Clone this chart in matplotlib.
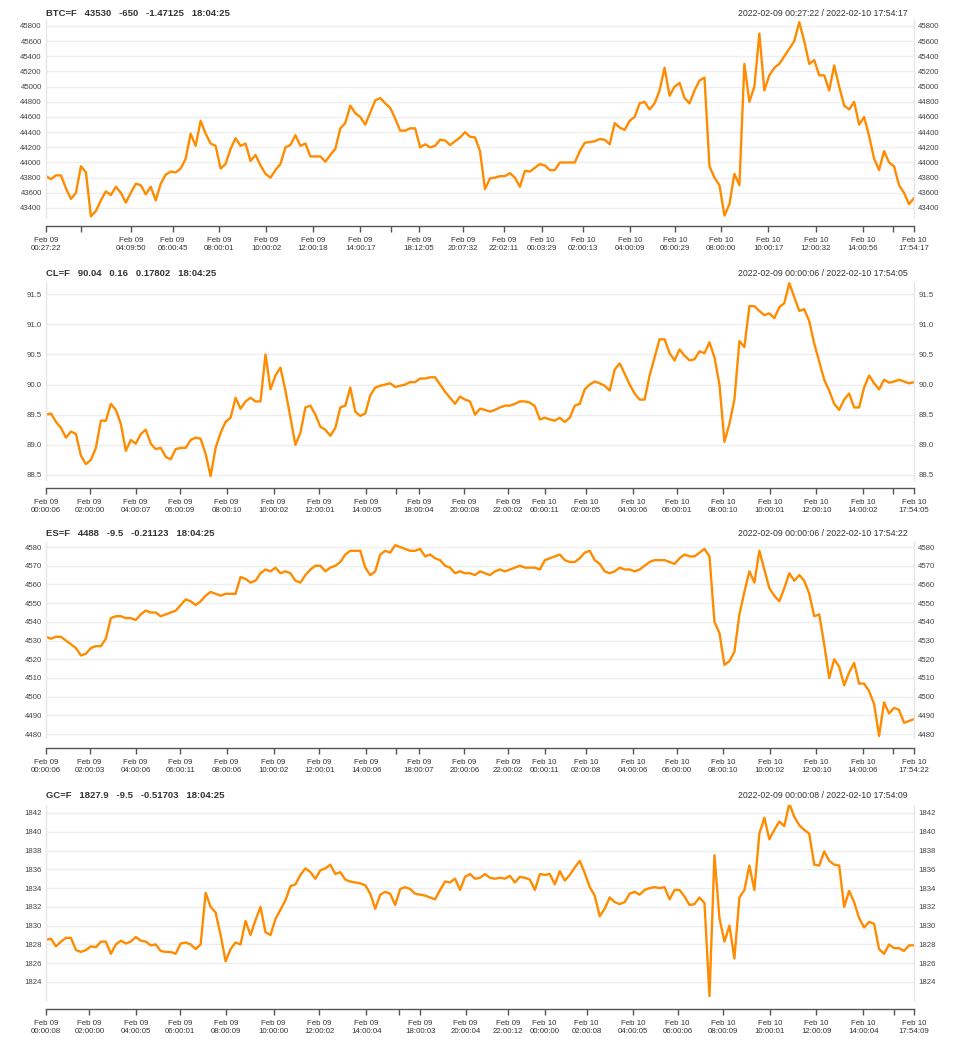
import numpy as np
import matplotlib
matplotlib.use("Agg")
import matplotlib.pyplot as plt

plt.rcParams["font.family"] = ["Liberation Sans", "DejaVu Sans"]

# ---- series values, evenly spaced along the sample sequence ----
btc = [43820, 43780, 43830, 43830, 43660, 43520, 43600, 43950, 43870, 43290,
       43360, 43500, 43620, 43570, 43680, 43600, 43470, 43600, 43720, 43700,
       43580, 43680, 43500, 43720, 43840, 43880, 43870, 43920, 44050, 44380,
       44220, 44550, 44380, 44250, 44220, 43920, 43980, 44180, 44320, 44220,
       44250, 44020, 44100, 43960, 43850, 43800, 43900, 43980, 44200, 44230,
       44360, 44220, 44250, 44080, 44080, 44080, 44010, 44100, 44180, 44450,
       44520, 44750, 44650, 44600, 44500, 44660, 44820, 44850, 44780, 44720,
       44580, 44420, 44420, 44450, 44450, 44200, 44240, 44200, 44220, 44300,
       44290, 44230, 44280, 44330, 44400, 44340, 44330,
       44150, 43650, 43790, 43800, 43820, 43820, 43860, 43800, 43680, 43890,
       43880, 43930, 43980, 43960, 43900, 43900, 44000, 44000, 44000, 44000,
       44150, 44260, 44270, 44280, 44310, 44300, 44240, 44520, 44460, 44430,
       44550, 44600, 44780, 44800, 44700, 44780, 44950, 45250, 44880, 45000,
       45050, 44850, 44780, 44950, 45080, 45120, 43950, 43800, 43700, 43300,
       43450, 43850, 43700, 45300, 44800, 45000, 45700, 44950, 45150, 45250,
       45300, 45400, 45500, 45600, 45850, 45600, 45300, 45350, 45150, 45150,
       44950, 45280, 45000, 44750, 44700, 44800, 44500, 44600, 44350, 44050,
       43900, 44150, 44000, 43950, 43700, 43600, 43450, 43530]

cl = [89.50, 89.52, 89.38, 89.28, 89.12, 89.22, 89.18, 88.82, 88.68, 88.75,
      88.95, 89.40, 89.40, 89.68, 89.58, 89.35, 88.90, 89.08, 89.02, 89.18,
      89.25, 89.02, 88.93, 88.95, 88.80, 88.76, 88.93, 88.95, 88.95, 89.08,
      89.12, 89.10, 88.85, 88.48, 88.95, 89.20, 89.38, 89.45, 89.78, 89.60,
      89.72, 89.78, 89.72, 89.72, 90.50, 89.92, 90.15, 90.28, 89.90, 89.45,
      89.00, 89.20, 89.62, 89.65, 89.50, 89.30, 89.25, 89.15, 89.28, 89.62,
      89.65, 89.95, 89.55, 89.48, 89.52, 89.82, 89.95, 89.98, 90.00, 90.02,
      89.96, 89.98, 90.00, 90.04, 90.04, 90.10, 90.10, 90.12, 90.12, 90.00,
      89.88, 89.78, 89.68, 89.80, 89.75, 89.72, 89.50,
      89.60, 89.58, 89.55, 89.58, 89.62, 89.65, 89.65, 89.68, 89.72, 89.72,
      89.70, 89.64, 89.42, 89.45, 89.42, 89.40, 89.45, 89.38, 89.45, 89.65,
      89.68, 89.92, 90.00, 90.05, 90.02, 89.98, 89.90, 90.25, 90.35, 90.18,
      90.00, 89.85, 89.75, 89.75, 90.15, 90.45, 90.75, 90.75, 90.52, 90.40,
      90.58, 90.48, 90.40, 90.42, 90.55, 90.52, 90.70, 90.45, 90.00, 89.05,
      89.35, 89.75, 90.72, 90.62, 91.30, 91.30, 91.22, 91.15, 91.18, 91.10,
      91.28, 91.35, 91.68, 91.45, 91.22, 91.25, 91.05, 90.68, 90.38, 90.08,
      89.90, 89.68, 89.58, 89.75, 89.85, 89.62, 89.62, 89.95, 90.15, 90.02,
      89.92, 90.08, 90.03, 90.05, 90.08, 90.05, 90.02, 90.04]

es = [4532, 4531, 4532, 4532, 4530, 4528, 4526, 4522, 4523, 4526,
      4527, 4527, 4531, 4542, 4543, 4543, 4542, 4542, 4541, 4544,
      4546, 4545, 4545, 4543, 4544, 4545, 4546, 4549, 4552, 4551,
      4549, 4551, 4554, 4556, 4555, 4554, 4555, 4555, 4555, 4564,
      4563, 4561, 4562, 4566, 4568, 4567, 4569, 4566, 4567, 4566,
      4562, 4561, 4565, 4568, 4570, 4570, 4567, 4569, 4570, 4572,
      4576, 4578, 4578, 4578, 4569, 4565, 4567, 4576, 4578, 4577,
      4581, 4580, 4579, 4578, 4578, 4579, 4575, 4576, 4574, 4573,
      4570, 4569, 4566, 4567, 4566, 4566, 4565,
      4567, 4566, 4565, 4567, 4568, 4567, 4568, 4569, 4570, 4569,
      4569, 4569, 4568, 4573, 4574, 4575, 4576, 4573, 4572, 4572,
      4574, 4577, 4578, 4573, 4571, 4567, 4566, 4567, 4569, 4568,
      4568, 4567, 4568, 4570, 4572, 4573, 4573, 4573, 4572, 4571,
      4574, 4576, 4575, 4575, 4577, 4579, 4575, 4540, 4534, 4517,
      4519, 4524, 4544, 4556, 4567, 4561, 4578, 4568, 4558, 4554,
      4551, 4558, 4566, 4562, 4565, 4562, 4555, 4543, 4544, 4528,
      4510, 4520, 4516, 4506, 4513, 4518, 4507, 4507, 4503, 4496,
      4479, 4497, 4491, 4494, 4493, 4486, 4487, 4488]

gc = [1828.5, 1828.6, 1827.8, 1828.3, 1828.7, 1828.7, 1827.4, 1827.2, 1827.4, 1827.8,
      1827.7, 1828.3, 1828.3, 1827.0, 1828.0, 1828.4, 1828.1, 1828.3, 1828.8, 1828.4,
      1828.3, 1827.9, 1828.0, 1827.3, 1827.2, 1827.2, 1827.0, 1828.1, 1828.2, 1828.0,
      1827.5, 1828.0, 1833.5, 1832.0, 1831.4, 1829.0, 1826.2, 1827.5, 1828.2, 1828.0,
      1830.5, 1829.0, 1830.6, 1832.0, 1829.3, 1829.0, 1830.7, 1831.7, 1832.7, 1834.2,
      1834.4, 1835.4, 1836.1, 1835.7, 1835.0, 1835.9, 1836.1, 1836.5, 1835.5, 1835.7,
      1834.9, 1834.7, 1834.6, 1834.5, 1834.3, 1833.4, 1831.8, 1833.3, 1833.6, 1833.4,
      1832.2, 1833.9, 1834.1, 1833.9, 1833.4, 1833.3, 1833.2, 1833.0, 1832.8, 1833.8,
      1834.7, 1834.6, 1835.0, 1833.8, 1835.2, 1835.5, 1835.0,
      1835.1, 1835.5, 1835.1, 1835.0, 1835.1, 1835.0, 1835.3, 1834.6, 1835.2, 1835.1,
      1834.9, 1833.8, 1835.5, 1835.4, 1835.5, 1834.4, 1835.8, 1834.8, 1835.4, 1836.2,
      1836.9, 1835.6, 1834.1, 1833.2, 1831.0, 1831.8, 1833.0, 1832.5, 1832.3, 1832.5,
      1833.4, 1833.6, 1833.3, 1833.8, 1834.0, 1834.1, 1834.0, 1834.1, 1832.8, 1833.8,
      1833.8, 1833.1, 1832.2, 1832.3, 1833.0, 1832.4, 1822.5, 1837.5, 1830.8, 1828.3,
      1830.0, 1826.5, 1833.0, 1833.8, 1836.4, 1833.8, 1839.8, 1841.5, 1839.2, 1840.2,
      1841.1, 1840.6, 1843.0, 1841.6, 1840.7, 1840.2, 1839.8, 1836.5, 1836.4, 1837.9,
      1836.9, 1836.5, 1836.4, 1832.0, 1833.7, 1832.5, 1830.8, 1829.8, 1830.4, 1830.2,
      1827.5, 1827.0, 1828.0, 1827.6, 1827.6, 1827.3, 1827.9, 1827.9]

# ---- x ticks: where along the sample sequence each timestamp falls ----
btc_tick_at = [0.0, 0.0399, 0.0982, 0.1458, 0.1992, 0.2536, 0.3077, 0.3622, 0.3975,
               0.4294, 0.4804, 0.5276, 0.5714, 0.6190, 0.6727, 0.7249, 0.7774,
               0.8319, 0.8868, 0.9413, 0.9754, 1.0]
btc_tick_labels = ["Feb 09\n00:27:22", "", "Feb 09\n04:09:50", "Feb 09\n06:00:45",
                   "Feb 09\n08:00:01", "Feb 09\n10:00:02", "Feb 09\n12:00:18",
                   "Feb 09\n14:00:17", "", "Feb 09\n18:12:05", "Feb 09\n20:07:32",
                   "Feb 09\n22:02:11", "Feb 10\n00:03:29", "Feb 10\n02:00:13",
                   "Feb 10\n04:00:09", "Feb 10\n06:00:29", "Feb 10\n08:00:00",
                   "Feb 10\n10:00:17", "Feb 10\n12:00:32", "Feb 10\n14:00:56", "",
                   "Feb 10\n17:54:17"]

cl_tick_at = [0.0, 0.0503, 0.1032, 0.1546, 0.2080, 0.2621, 0.3150, 0.3691, 0.4033,
              0.4298, 0.4820, 0.5322, 0.5744, 0.6224, 0.6761, 0.7272, 0.7801,
              0.8338, 0.8876, 0.9413, 0.9754, 1.0]
cl_tick_labels = ["Feb 09\n00:00:06", "Feb 09\n02:00:00", "Feb 09\n04:00:07",
                  "Feb 09\n06:00:09", "Feb 09\n08:00:10", "Feb 09\n10:00:02",
                  "Feb 09\n12:00:01", "Feb 09\n14:00:05", "", "Feb 09\n18:00:04",
                  "Feb 09\n20:00:08", "Feb 09\n22:00:02", "Feb 10\n00:00:11",
                  "Feb 10\n02:00:05", "Feb 10\n04:00:06", "Feb 10\n06:00:01",
                  "Feb 10\n08:00:10", "Feb 10\n10:00:01", "Feb 10\n12:00:10",
                  "Feb 10\n14:00:02", "", "Feb 10\n17:54:05"]

es_tick_at = cl_tick_at
es_tick_labels = ["Feb 09\n00:00:06", "Feb 09\n02:00:03", "Feb 09\n04:00:06",
                  "Feb 09\n06:00:11", "Feb 09\n08:00:06", "Feb 09\n10:00:02",
                  "Feb 09\n12:00:01", "Feb 09\n14:00:06", "", "Feb 09\n18:00:07",
                  "Feb 09\n20:00:06", "Feb 09\n22:00:02", "Feb 10\n00:00:11",
                  "Feb 10\n02:00:08", "Feb 10\n04:00:06", "Feb 10\n06:00:00",
                  "Feb 10\n08:00:10", "Feb 10\n10:00:02", "Feb 10\n12:00:10",
                  "Feb 10\n14:00:06", "", "Feb 10\n17:54:22"]

gc_tick_at = [0.0, 0.0499, 0.1040, 0.1543, 0.2076, 0.2621, 0.3150, 0.3691, 0.4064,
              0.4313, 0.4835, 0.5322, 0.5744, 0.6228, 0.6761, 0.7276, 0.7801,
              0.8338, 0.8876, 0.9417, 0.9770, 1.0]
gc_tick_labels = ["Feb 09\n00:00:08", "Feb 09\n02:00:00", "Feb 09\n04:00:05",
                  "Feb 09\n06:00:01", "Feb 09\n08:00:09", "Feb 09\n10:00:00",
                  "Feb 09\n12:00:02", "Feb 09\n14:00:04", "", "Feb 09\n18:00:03",
                  "Feb 09\n20:00:04", "Feb 09\n22:00:12", "Feb 10\n00:00:00",
                  "Feb 10\n02:00:08", "Feb 10\n04:00:05", "Feb 10\n06:00:06",
                  "Feb 10\n08:00:09", "Feb 10\n10:00:01", "Feb 10\n12:00:09",
                  "Feb 10\n14:00:04", "", "Feb 10\n17:54:09"]

headers = ["BTC=F   43530   -650   -1.47125   18:04:25",
           "CL=F   90.04   0.16   0.17802   18:04:25",
           "ES=F   4488   -9.5   -0.21123   18:04:25",
           "GC=F   1827.9   -9.5   -0.51703   18:04:25"]
ranges = ["2022-02-09 00:27:22 / 2022-02-10 17:54:17",
          "2022-02-09 00:00:06 / 2022-02-10 17:54:05",
          "2022-02-09 00:00:06 / 2022-02-10 17:54:22",
          "2022-02-09 00:00:08 / 2022-02-10 17:54:09"]

y_ticks = [np.arange(43400, 45801, 200),
           np.arange(88.5, 91.51, 0.5),
           np.arange(4480, 4581, 10),
           np.arange(1824, 1843, 2)]
y_fmt = ["{:.0f}", "{:.1f}", "{:.0f}", "{:.0f}"]
y_lims = [(43268, 45879), (88.417, 91.70), (4477.9, 4582.7), (1822.08, 1842.85)]

# ---- layout (pixels) ----
W, H = 957, 1042
LEFT, RIGHT = 46, 914
tops = [20, 282, 542, 805]
bottoms = [218, 480, 738, 1000]
axis_lines = [226, 488, 748, 1009]
header_y = [13, 273, 534, 795]

LINE = "#ff8c00"
TEXT = "#333333"

fig = plt.figure(figsize=(W / 100, H / 100), dpi=100)

series = [btc, cl, es, gc]
tick_at = [btc_tick_at, cl_tick_at, es_tick_at, gc_tick_at]
tick_labels = [btc_tick_labels, cl_tick_labels, es_tick_labels, gc_tick_labels]

for i, vals in enumerate(series):
    ax = fig.add_axes([LEFT / W, 1 - bottoms[i] / H,
                       (RIGHT - LEFT) / W, (bottoms[i] - tops[i]) / H])
    x = np.linspace(0, 1, len(vals))
    ax.plot(x, vals, color=LINE, lw=1.7, solid_joinstyle="round")
    ax.set_xlim(0, 1)
    ax.set_ylim(*y_lims[i])

    ax.set_yticks(y_ticks[i])
    ax.set_yticklabels([y_fmt[i].format(v) for v in y_ticks[i]])
    ax.tick_params(axis="y", length=0, labelsize=5.6, labelcolor="#444444",
                   labelleft=True, labelright=True, pad=3)
    ax.grid(axis="y", color="#eeeeee", lw=1)
    ax.set_axisbelow(True)

    ax.set_xticks(tick_at[i])
    ax.set_xticklabels(tick_labels[i], linespacing=1.45)
    ax.tick_params(axis="x", length=4.3, width=1, color="#555555", pad=3.5,
                   labelsize=5.7, labelcolor=TEXT)

    for side in ("left", "right"):
        ax.spines[side].set_color("#e6e6e6")
        ax.spines[side].set_linewidth(1)
    ax.spines["top"].set_visible(False)
    ax.spines["bottom"].set_position(("outward", (axis_lines[i] - bottoms[i]) * 0.72))
    ax.spines["bottom"].set_color("#555555")
    ax.spines["bottom"].set_linewidth(1)

    fig.text(LEFT / W, 1 - header_y[i] / H, headers[i], fontsize=6.8,
             fontweight="bold", color="#333333", va="center", ha="left")
    fig.text(908 / W, 1 - header_y[i] / H, ranges[i], fontsize=6.3,
             color="#333333", va="center", ha="right")

fig.savefig("out.png", dpi=100)
